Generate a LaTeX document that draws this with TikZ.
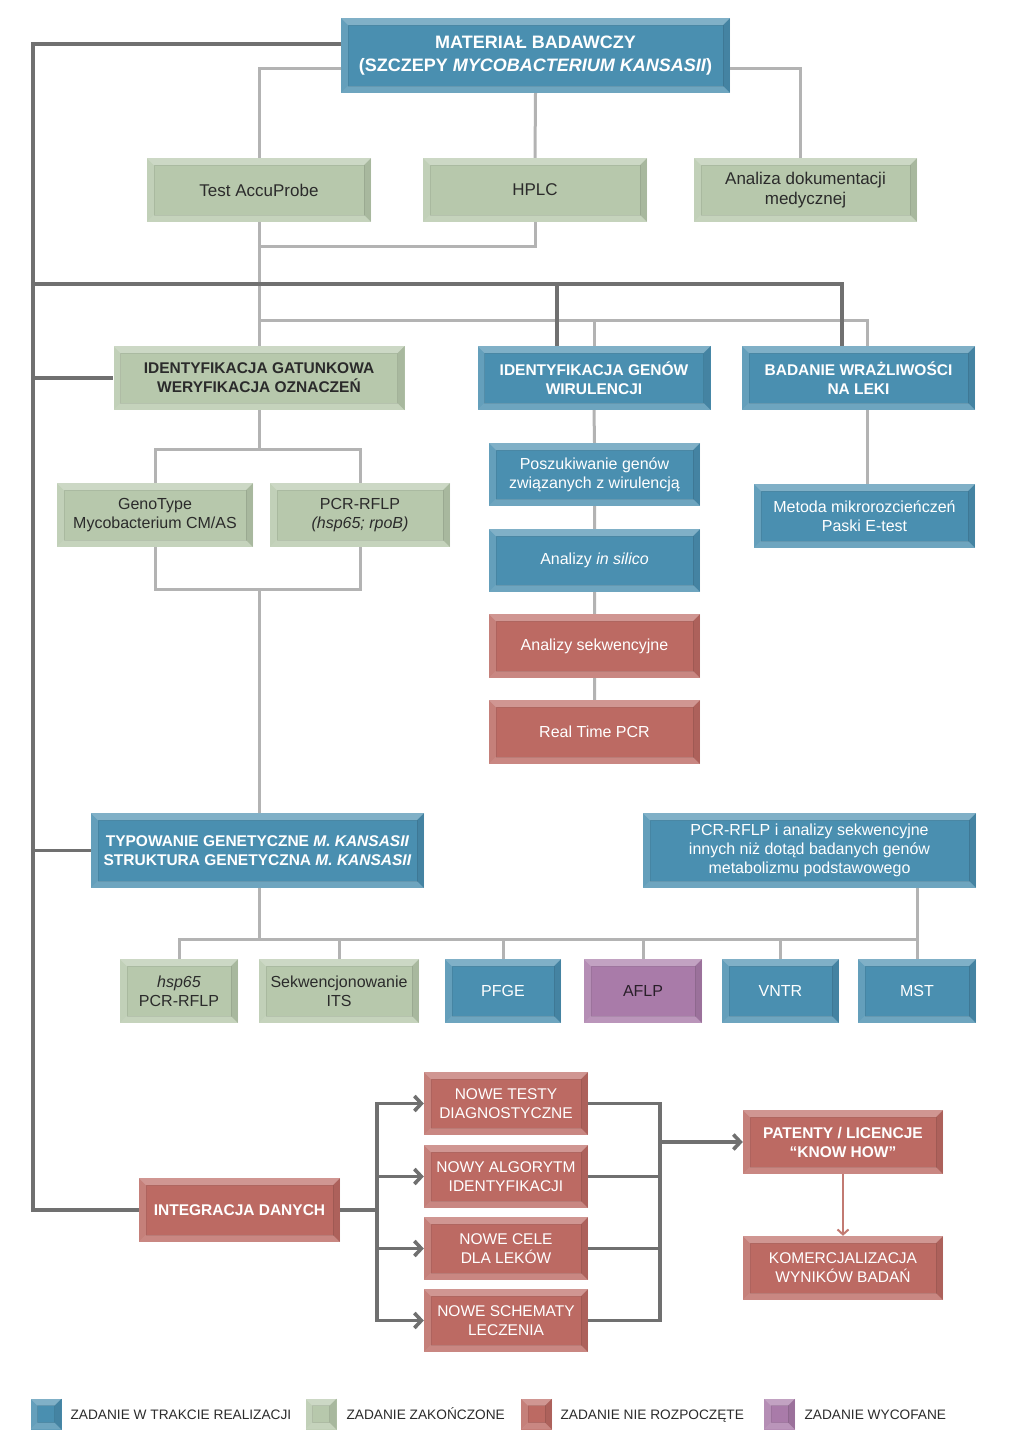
\documentclass[tikz,border=0pt]{standalone}
\usepackage{fontspec}
\setmainfont{Liberation Sans}
\usetikzlibrary{arrows.meta}

\definecolor{blueface}{HTML}{4A8FB0}
\definecolor{greenface}{HTML}{B7C8AC}
\definecolor{redface}{HTML}{BC6A63}
\definecolor{purpface}{HTML}{A97BA9}
\definecolor{litegray}{HTML}{B3B3B3}
\definecolor{darkgray}{HTML}{707070}
\definecolor{arrred}{HTML}{C27A72}
\definecolor{darktext}{HTML}{2B2B2B}

\tikzset{
  bevel/.style={path picture={
      \path (path picture bounding box.north west) coordinate (bA)
            (path picture bounding box.north east) coordinate (bB)
            (path picture bounding box.south east) coordinate (bC)
            (path picture bounding box.south west) coordinate (bD);
      \path ([xshift=7pt,yshift=-7pt]bA) coordinate (iA)
            ([xshift=-7pt,yshift=-7pt]bB) coordinate (iB)
            ([xshift=-7pt,yshift=7pt]bC) coordinate (iC)
            ([xshift=7pt,yshift=7pt]bD) coordinate (iD);
      \fill[white,opacity=.3] (bA) -- (bB) -- (iB) -- (iA) -- cycle;
      \fill[white,opacity=.15] (bA) -- (iA) -- (iD) -- (bD) -- cycle;
      \fill[black,opacity=.08] (bB) -- (bC) -- (iC) -- (iB) -- cycle;
      \fill[white,opacity=.2] (bD) -- (iD) -- (iC) -- (bC) -- cycle;
      \draw[black,opacity=.08,line width=.8pt] (iA) rectangle (iC);
    }},
  box/.style={rectangle, inner sep=0pt, align=center, minimum height=64pt, bevel},
  inprog/.style={box, fill=blueface, text=white},
  done/.style={box, fill=greenface, text=darktext},
  notyet/.style={box, fill=redface, text=white},
  dropped/.style={box, fill=purpface, text=black!75!purpface},
  fbig/.style={font=\fontsize{18}{23}\selectfont\bfseries},
  fhead/.style={font=\fontsize{15.5}{19}\selectfont\bfseries},
  fnorm/.style={font=\fontsize{17}{19.5}\selectfont},
  fmid/.style={font=\fontsize{16}{19}\selectfont},
  fcap/.style={font=\fontsize{15.5}{19}\selectfont},
  flegend/.style={font=\fontsize{13.7}{16}\selectfont, text=darktext, anchor=base west},
  lite/.style={draw=litegray, line width=3pt},
  dark/.style={draw=darkgray, line width=3.6pt},
  arr/.style={-{Straight Barb[length=7pt,width=15pt]}},
}

\begin{document}
\begin{tikzpicture}[x=1pt, y=-1pt]
  \useasboundingbox (0,0) rectangle (1024,1448);

  % top level
  \node[inprog, fbig, minimum width=389pt, minimum height=75pt] (mat) at (535.5,55.5)
    {MATERIAŁ BADAWCZY\\(SZCZEPY \textit{MYCOBACTERIUM KANSASII})};
  \node[done, fnorm, minimum width=224pt] (accu) at (259,190) {Test AccuProbe};
  \node[done, fnorm, minimum width=224pt] (hplc) at (535,190) {HPLC};
  \node[done, fnorm, minimum width=223pt] (anal) at (805.5,190) {Analiza dokumentacji\\medycznej};

  % second level
  \node[done, fhead, minimum width=291pt] (gat) at (259,378) {IDENTYFIKACJA GATUNKOWA\\WERYFIKACJA OZNACZEŃ};
  \node[inprog, fhead, minimum width=233pt] (gen) at (594,378) {IDENTYFIKACJA GENÓW\\WIRULENCJI};
  \node[inprog, fhead, minimum width=233pt] (bad) at (858.5,378) {BADANIE WRAŻLIWOŚCI\\NA LEKI};

  \node[done, fmid, minimum width=196pt] (geno) at (155,515) {GenoType\\Mycobacterium CM/AS};
  \node[done, fmid, minimum width=180pt] (pcr) at (360,515) {PCR-RFLP\\\textit{(hsp65; rpoB)}};

  \node[inprog, fmid, minimum width=211pt, minimum height=63pt] (posz) at (594.5,474.5) {Poszukiwanie genów\\związanych z wirulencją};
  \node[inprog, fmid, minimum width=211pt, minimum height=63pt] (sil) at (594.5,560.5) {Analizy \textit{in silico}};
  \node[notyet, fmid, minimum width=211pt] (seq) at (594.5,646) {Analizy sekwencyjne};
  \node[notyet, fmid, minimum width=211pt] (rt) at (594.5,732) {Real Time PCR};

  \node[inprog, fmid, minimum width=221pt] (met) at (864.5,516) {Metoda mikrorozcieńczeń\\Paski E-test};

  % typing
  \node[inprog, fhead, minimum width=333pt, minimum height=75pt] (typ) at (257.5,850.5)
    {TYPOWANIE GENETYCZNE \textit{M. KANSASII}\\STRUKTURA GENETYCZNA \textit{M. KANSASII}};
  \node[inprog, fmid, minimum width=333pt, minimum height=75pt] (pcrseq) at (809.5,850.5)
    {PCR-RFLP i analizy sekwencyjne\\innych niż dotąd badanych genów\\metabolizmu podstawowego};

  \node[done, fmid, minimum width=118pt] (hsp) at (179,991) {\textit{hsp65}\\PCR-RFLP};
  \node[done, fmid, minimum width=160pt] (its) at (339,991) {Sekwencjonowanie\\ITS};
  \node[inprog, fmid, minimum width=116pt] (pfge) at (503,991) {PFGE};
  \node[dropped, fmid, minimum width=118pt] (aflp) at (643,991) {AFLP};
  \node[inprog, fmid, minimum width=117pt] (vntr) at (780.5,991) {VNTR};
  \node[inprog, fmid, minimum width=118pt] (mst) at (917,991) {MST};

  % integration
  \node[notyet, fhead, minimum width=201pt] (integ) at (239.5,1210) {INTEGRACJA DANYCH};
  \node[notyet, fcap, minimum width=164pt, minimum height=63pt] (nt) at (506,1103.5) {NOWE TESTY\\DIAGNOSTYCZNE};
  \node[notyet, fcap, minimum width=164pt, minimum height=63pt] (na) at (506,1176.5) {NOWY ALGORYTM\\IDENTYFIKACJI};
  \node[notyet, fcap, minimum width=164pt, minimum height=63pt] (nc) at (506,1248.5) {NOWE CELE\\DLA LEKÓW};
  \node[notyet, fcap, minimum width=164pt, minimum height=63pt] (ns) at (506,1320.5) {NOWE SCHEMATY\\LECZENIA};
  \node[notyet, fhead, minimum width=200pt] (pat) at (843,1142) {PATENTY / LICENCJE\\“KNOW HOW”};
  \node[notyet, fcap, minimum width=200pt] (kom) at (843,1268) {KOMERCJALIZACJA\\WYNIKÓW BADAŃ};

  % legend
  \node[inprog, minimum width=31pt, minimum height=31pt] (l1) at (46,1414) {};
  \node[flegend] (l1t) at (67,1419) {ZADANIE W TRAKCIE REALIZACJI};
  \node[done, minimum width=31pt, minimum height=31pt] (l2) at (321,1414) {};
  \node[flegend] (l2t) at (343,1419) {ZADANIE ZAKOŃCZONE};
  \node[notyet, minimum width=31pt, minimum height=31pt] (l3) at (536.5,1414) {};
  \node[flegend] (l3t) at (557,1419) {ZADANIE NIE ROZPOCZĘTE};
  \node[dropped, minimum width=31pt, minimum height=31pt] (l4) at (779.5,1414) {};
  \node[flegend] (l4t) at (801,1419) {ZADANIE WYCOFANE};

  % junctions
  \coordinate (spine) at (33,44);
  \coordinate (dbar) at (33,284);
  \coordinate (lbar) at (259,320);
  \coordinate (apj) at (259,246);
  \coordinate (gsplit) at (259,449);
  \coordinate (gjoin) at (259,589);
  \coordinate (tsplit) at (259,939);
  \coordinate (isplit) at (377,1210);
  \coordinate (rsplit) at (660,1142);
  \coordinate (badx) at ([xshift=8.5pt]bad.south);

  % light connectors
  \draw[lite] ([yshift=-12.5pt]mat.west) -| (accu.north);
  \draw[lite] ([yshift=-12.5pt]mat.east) -| ([xshift=-5pt]anal.north);
  \draw[lite] (mat.south) -- (hplc.north);
  \draw[lite] (accu.south) -- (apj) -| (hplc.south);
  \draw[lite] (apj) -- (gat.north);
  \draw[lite] (lbar) -| ([xshift=8.5pt]bad.north);
  \draw[lite] (lbar -| gen.north) -- (gen.north);
  \draw[lite] (gat.south) -- (gsplit);
  \draw[lite] (geno.north) |- (gsplit) -| (pcr.north);
  \draw[lite] (geno.south) |- (gjoin) -| (pcr.south);
  \draw[lite] (gjoin) -- (gjoin |- typ.north);
  \draw[lite] (gen.south) -- (posz.north) (posz.south) -- (sil.north)
              (sil.south) -- (seq.north) (seq.south) -- (rt.north);
  \draw[lite] (badx) -- (badx |- met.north);
  \draw[lite] (tsplit |- typ.south) -- (tsplit);
  \draw[lite] (hsp.north) |- (tsplit) -| (mst.north);
  \foreach \b in {its,pfge,aflp,vntr}
    \draw[lite] (\b.north) -- (\b.north |- tsplit);
  \draw[lite] (pcrseq.south -| mst.north) -- (mst.north);

  % dark connectors
  \draw[dark] ([yshift=11.5pt]mat.west) -- (spine) |- (integ.west);
  \draw[dark] (dbar) -| ([xshift=-16.5pt]bad.north);
  \draw[dark] ([xshift=-37pt]gen.north) -- ++(0,-62);
  \draw[dark] (spine |- gat.west) -- (gat.west);
  \draw[dark] (spine |- typ.west) -- (typ.west);
  \draw[dark] (integ.east) -- (isplit);
  \foreach \b in {nt,na,nc,ns}
    \draw[dark,arr] (isplit) |- (\b.west);
  \foreach \b in {nt,na,nc,ns}
    \draw[dark] (\b.east) -| (rsplit);
  \draw[dark,arr] (rsplit) -- (pat.west);
  \draw[draw=arrred, line width=2pt, -{Straight Barb[length=5pt,width=11pt]}] (pat.south) -- (kom.north);
\end{tikzpicture}
\end{document}
